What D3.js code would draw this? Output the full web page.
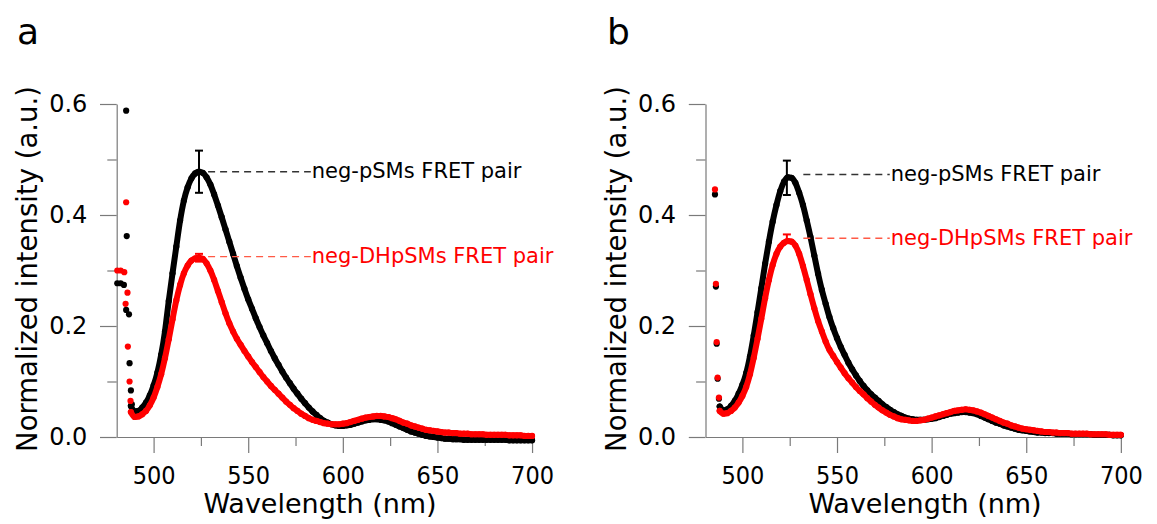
<!DOCTYPE html>
<html>
<head>
<meta charset="utf-8">
<script src="https://cdn.jsdelivr.net/npm/d3@7"></script>
<style>
  body { margin: 0; background: #fff; }
</style>
</head>
<body>
<div id="chart"></div>
<script>
// Wavelength grid of the spectra (nm), 2 nm steps
const wavelengths = d3.range(488, 701, 2);

// Panel a - normalized intensities on the wavelength grid
const blackA = [
  0.056, 0.046, 0.047, 0.053, 0.062, 0.075, 0.093, 0.116, 0.148, 0.190,
  0.245, 0.295, 0.343, 0.390, 0.426, 0.450, 0.466, 0.475, 0.478, 0.476,
  0.468, 0.455, 0.437, 0.417, 0.396, 0.374, 0.352, 0.330, 0.308, 0.287,
  0.267, 0.248, 0.231, 0.214, 0.198, 0.183, 0.169, 0.155, 0.142, 0.130,
  0.118, 0.107, 0.097, 0.087, 0.078, 0.069, 0.061, 0.053, 0.046, 0.040,
  0.034, 0.029, 0.026, 0.023, 0.021, 0.020, 0.020, 0.021, 0.022, 0.024,
  0.026, 0.028, 0.030, 0.031, 0.032, 0.032, 0.031, 0.030, 0.028, 0.025,
  0.022, 0.019, 0.016, 0.013, 0.010, 0.008, 0.006, 0.004, 0.002, 0.001,
  0.000, -0.001, -0.002, -0.003, -0.003, -0.004, -0.004, -0.004, -0.005, -0.005,
  -0.005, -0.005, -0.005, -0.005, -0.005, -0.005, -0.005, -0.005, -0.005, -0.005,
  -0.006, -0.006, -0.006, -0.006, -0.006, -0.006, -0.006
];
const redA = [
  0.045, 0.036, 0.037, 0.041, 0.047, 0.057, 0.071, 0.090, 0.113, 0.142,
  0.176, 0.212, 0.246, 0.274, 0.295, 0.309, 0.318, 0.322, 0.323, 0.321,
  0.313, 0.300, 0.283, 0.263, 0.243, 0.223, 0.205, 0.190, 0.177, 0.166,
  0.155, 0.145, 0.135, 0.126, 0.117, 0.108, 0.100, 0.092, 0.085, 0.078,
  0.071, 0.064, 0.058, 0.052, 0.047, 0.042, 0.038, 0.034, 0.031, 0.029,
  0.027, 0.025, 0.024, 0.023, 0.023, 0.023, 0.024, 0.025, 0.027, 0.029,
  0.031, 0.033, 0.035, 0.036, 0.037, 0.038, 0.038, 0.037, 0.036, 0.034,
  0.032, 0.029, 0.026, 0.024, 0.021, 0.019, 0.017, 0.015, 0.013, 0.012,
  0.011, 0.010, 0.009, 0.008, 0.008, 0.007, 0.007, 0.006, 0.006, 0.006,
  0.005, 0.005, 0.005, 0.005, 0.004, 0.004, 0.004, 0.004, 0.004, 0.004,
  0.003, 0.003, 0.003, 0.003, 0.002, 0.002, 0.002
];
// scattered points near the excitation line (panel a)
const earlyBlackWlA = [480.8, 482.6, 484.3, 485.5, 485.8, 485.5, 487.0, 487.3, 488.0, 488.5];
const earlyBlackA = [0.277, 0.277, 0.274, 0.588, 0.362, 0.229, 0.221, 0.133, 0.084, 0.059];
const earlyRedWlA = [480.8, 482.6, 484.5, 485.5, 486.2, 485.2, 486.4, 487.3, 487.8];
const earlyRedA = [0.300, 0.300, 0.297, 0.423, 0.260, 0.240, 0.163, 0.100, 0.065];

// Panel b
const blackB = [
  0.055, 0.048, 0.050, 0.056, 0.065, 0.078, 0.094, 0.115, 0.145, 0.183,
  0.225, 0.268, 0.312, 0.352, 0.388, 0.418, 0.443, 0.460, 0.468, 0.467,
  0.458, 0.440, 0.418, 0.390, 0.360, 0.327, 0.294, 0.265, 0.240, 0.216,
  0.196, 0.178, 0.162, 0.148, 0.134, 0.122, 0.111, 0.101, 0.092, 0.084,
  0.077, 0.071, 0.065, 0.059, 0.054, 0.049, 0.045, 0.041, 0.038, 0.035,
  0.033, 0.032, 0.031, 0.031, 0.031, 0.032, 0.033, 0.034, 0.036, 0.038,
  0.040, 0.042, 0.043, 0.044, 0.045, 0.045, 0.044, 0.043, 0.041, 0.038,
  0.035, 0.032, 0.029, 0.026, 0.024, 0.021, 0.019, 0.017, 0.015, 0.013,
  0.012, 0.011, 0.010, 0.009, 0.008, 0.008, 0.007, 0.007, 0.007, 0.006,
  0.006, 0.006, 0.006, 0.005, 0.005, 0.005, 0.005, 0.005, 0.005, 0.004,
  0.004, 0.004, 0.004, 0.004, 0.003, 0.003, 0.003
];
const redB = [
  0.047, 0.042, 0.043, 0.047, 0.053, 0.062, 0.074, 0.090, 0.113, 0.143,
  0.177, 0.213, 0.250, 0.283, 0.310, 0.330, 0.343, 0.350, 0.353, 0.352,
  0.345, 0.330, 0.308, 0.283, 0.257, 0.232, 0.209, 0.190, 0.172, 0.157,
  0.146, 0.135, 0.125, 0.115, 0.106, 0.098, 0.090, 0.083, 0.077, 0.070,
  0.064, 0.058, 0.053, 0.048, 0.044, 0.040, 0.037, 0.034, 0.032, 0.031,
  0.030, 0.029, 0.029, 0.030, 0.031, 0.033, 0.035, 0.037, 0.039, 0.041,
  0.043, 0.045, 0.047, 0.048, 0.049, 0.050, 0.049, 0.048, 0.046, 0.044,
  0.041, 0.038, 0.035, 0.032, 0.029, 0.026, 0.024, 0.021, 0.019, 0.017,
  0.015, 0.014, 0.013, 0.012, 0.011, 0.010, 0.009, 0.009, 0.008, 0.008,
  0.007, 0.007, 0.007, 0.006, 0.006, 0.006, 0.006, 0.006, 0.005, 0.005,
  0.005, 0.005, 0.005, 0.004, 0.004, 0.004, 0.004
];
const earlyWlB = [485.5, 486.0, 486.4, 486.9, 487.6];
const earlyBlackB = [0.437, 0.271, 0.168, 0.105, 0.069];
const earlyRedB = [0.446, 0.276, 0.171, 0.107, 0.071];

// Error bars at the peak and the labels pointing at them: [black, red]
const pairLabels = ['neg-pSMs FRET pair', 'neg-DHpSMs FRET pair'];
const peakWlA = [524, 524];
const errLowA = [0.440, 0.316];
const errHighA = [0.516, 0.330];
const labelLevelA = [0.478, 0.325];
const peakWlB = [523.5, 523.5];
const errLowB = [0.436, 0.350];
const errHighB = [0.498, 0.365];
const labelLevelB = [0.473, 0.358];

// Axis ticks
const xMajor = [500, 550, 600, 650, 700];
const xMinor = [525, 575, 625, 675];
const yMajor = [0, 0.2, 0.4, 0.6];
const yMinor = [0.1, 0.3, 0.5];

const FONT = "'DejaVu Sans', sans-serif";
const AXIS_COLOR = '#7a7a7a';
const RED = '#ff0000';

const svg = d3.select('#chart')
  .append('svg')
  .attr('width', 1157)
  .attr('height', 524);

svg.append('rect').attr('width', 1157).attr('height', 524).attr('fill', '#fff');

const plotW = 416.3;
const plotH = 333;
const plotTop = 104;

const createSpectraPanel = (cfg) => {
  const g = svg.append('g')
    .attr('transform', `translate(${cfg.left},${plotTop})`);

  // Scales
  const x = d3.scaleLinear().domain([480.5, 700.5]).range([0, plotW]);
  const y = d3.scaleLinear().domain([0, 0.6]).range([plotH, 0]);

  // Y axis (major + minor)
  const yAxis = g.append('g')
    .call(d3.axisLeft(y).tickValues(yMajor).tickSize(16.7).tickSizeOuter(0)
      .tickPadding(12.7).tickFormat(d3.format('.1f')));
  g.append('g')
    .call(d3.axisLeft(y).tickValues(yMinor).tickSize(9.4).tickFormat(''))
    .select('.domain').remove();

  yAxis.selectAll('text')
    .style('font-family', FONT)
    .style('font-size', '24px')
    .style('fill', '#000');

  // X axis
  const xAxis = g.append('g')
    .attr('transform', `translate(0,${plotH})`)
    .call(d3.axisBottom(x).tickValues(xMajor).tickSize(16).tickSizeOuter(0)
      .tickPadding(13));
  g.append('g')
    .attr('transform', `translate(0,${plotH})`)
    .call(d3.axisBottom(x).tickValues(xMinor).tickSize(9).tickFormat(''))
    .select('.domain').remove();

  xAxis.selectAll('text')
    .style('font-family', "'DejaVu Sans Condensed', 'DejaVu Sans', sans-serif")
    .style('font-stretch', 'condensed')
    .style('font-size', '25px')
    .style('fill', '#000');

  g.selectAll('.domain, .tick line')
    .attr('stroke', AXIS_COLOR)
    .attr('stroke-width', 1.2);

  // Axis titles
  svg.append('text')
    .attr('x', cfg.xTitleX)
    .attr('y', 513)
    .style('text-anchor', 'middle')
    .style('font-family', FONT)
    .style('font-size', '27px')
    .text('Wavelength (nm)');

  svg.append('text')
    .attr('transform', `translate(${cfg.left - 80},269) rotate(-90)`)
    .style('text-anchor', 'middle')
    .style('font-family', FONT)
    .style('font-size', '27.5px')
    .text('Normalized intensity (a.u.)');

  // Panel letter
  svg.append('text')
    .attr('x', cfg.letterX)
    .attr('y', 44)
    .style('font-family', FONT)
    .style('font-size', '36px')
    .text(cfg.letter);

  // Spectra: dense dots drawn as a thick line plus the dots themselves
  const line = d3.line()
    .x(d => x(d.wl))
    .y(d => y(d.v))
    .curve(d3.curveMonotoneX);

  cfg.series.forEach(s => {
    const pts = wavelengths.map((wl, i) => ({ wl, v: s.values[i] }));
    g.append('path')
      .datum(pts)
      .attr('d', line)
      .attr('fill', 'none')
      .attr('stroke', s.color)
      .attr('stroke-width', 6)
      .attr('stroke-linejoin', 'round')
      .attr('stroke-linecap', 'round');

    const early = s.earlyWl.map((wl, i) => ({ wl, v: s.early[i] }));
    g.selectAll(null)
      .data(pts.concat(early))
      .enter().append('circle')
      .attr('cx', d => x(d.wl))
      .attr('cy', d => y(d.v))
      .attr('r', 3.1)
      .attr('fill', s.color);
  });

  // Error bars, dashed leaders and labels
  const colors = ['#000', RED];
  const dashColors = ['#333', '#ff5a46'];
  cfg.peakWl.forEach((wl, i) => {
    const cx = x(wl);
    const bar = g.append('g')
      .attr('stroke', colors[i])
      .attr('stroke-width', 2);
    bar.append('line')
      .attr('x1', cx).attr('x2', cx)
      .attr('y1', y(cfg.errLow[i])).attr('y2', y(cfg.errHigh[i]));
    [cfg.errLow[i], cfg.errHigh[i]].forEach(v => {
      bar.append('line')
        .attr('x1', cx - 4).attr('x2', cx + 4)
        .attr('y1', y(v)).attr('y2', y(v));
    });

    g.append('line')
      .attr('x1', x(cfg.leaderFrom))
      .attr('x2', x(cfg.labelWl) - 1)
      .attr('y1', y(cfg.labelLevel[i]))
      .attr('y2', y(cfg.labelLevel[i]))
      .attr('stroke', dashColors[i])
      .attr('stroke-width', 1.4)
      .attr('stroke-dasharray', '7,5');

    g.append('text')
      .attr('x', x(cfg.labelWl))
      .attr('y', y(cfg.labelLevel[i]))
      .attr('dy', '0.3em')
      .style('font-family', FONT)
      .style('font-size', '21px')
      .style('fill', colors[i])
      .text(pairLabels[i]);
  });
};

createSpectraPanel({
  left: 116.7,
  letter: 'a',
  letterX: 17,
  xTitleX: 320,
  series: [
    { color: '#000', values: blackA, earlyWl: earlyBlackWlA, early: earlyBlackA },
    { color: RED, values: redA, earlyWl: earlyRedWlA, early: earlyRedA }
  ],
  peakWl: peakWlA,
  errLow: errLowA,
  errHigh: errHighA,
  labelLevel: labelLevelA,
  leaderFrom: 528.8,
  labelWl: 583.6
});

createSpectraPanel({
  left: 705.5,
  letter: 'b',
  letterX: 607,
  xTitleX: 925,
  series: [
    { color: '#000', values: blackB, earlyWl: earlyWlB, early: earlyBlackB },
    { color: RED, values: redB, earlyWl: earlyWlB, early: earlyRedB }
  ],
  peakWl: peakWlB,
  errLow: errLowB,
  errHigh: errHighB,
  labelLevel: labelLevelB,
  leaderFrom: 532.2,
  labelWl: 578.4
});
</script>
</body>
</html>
